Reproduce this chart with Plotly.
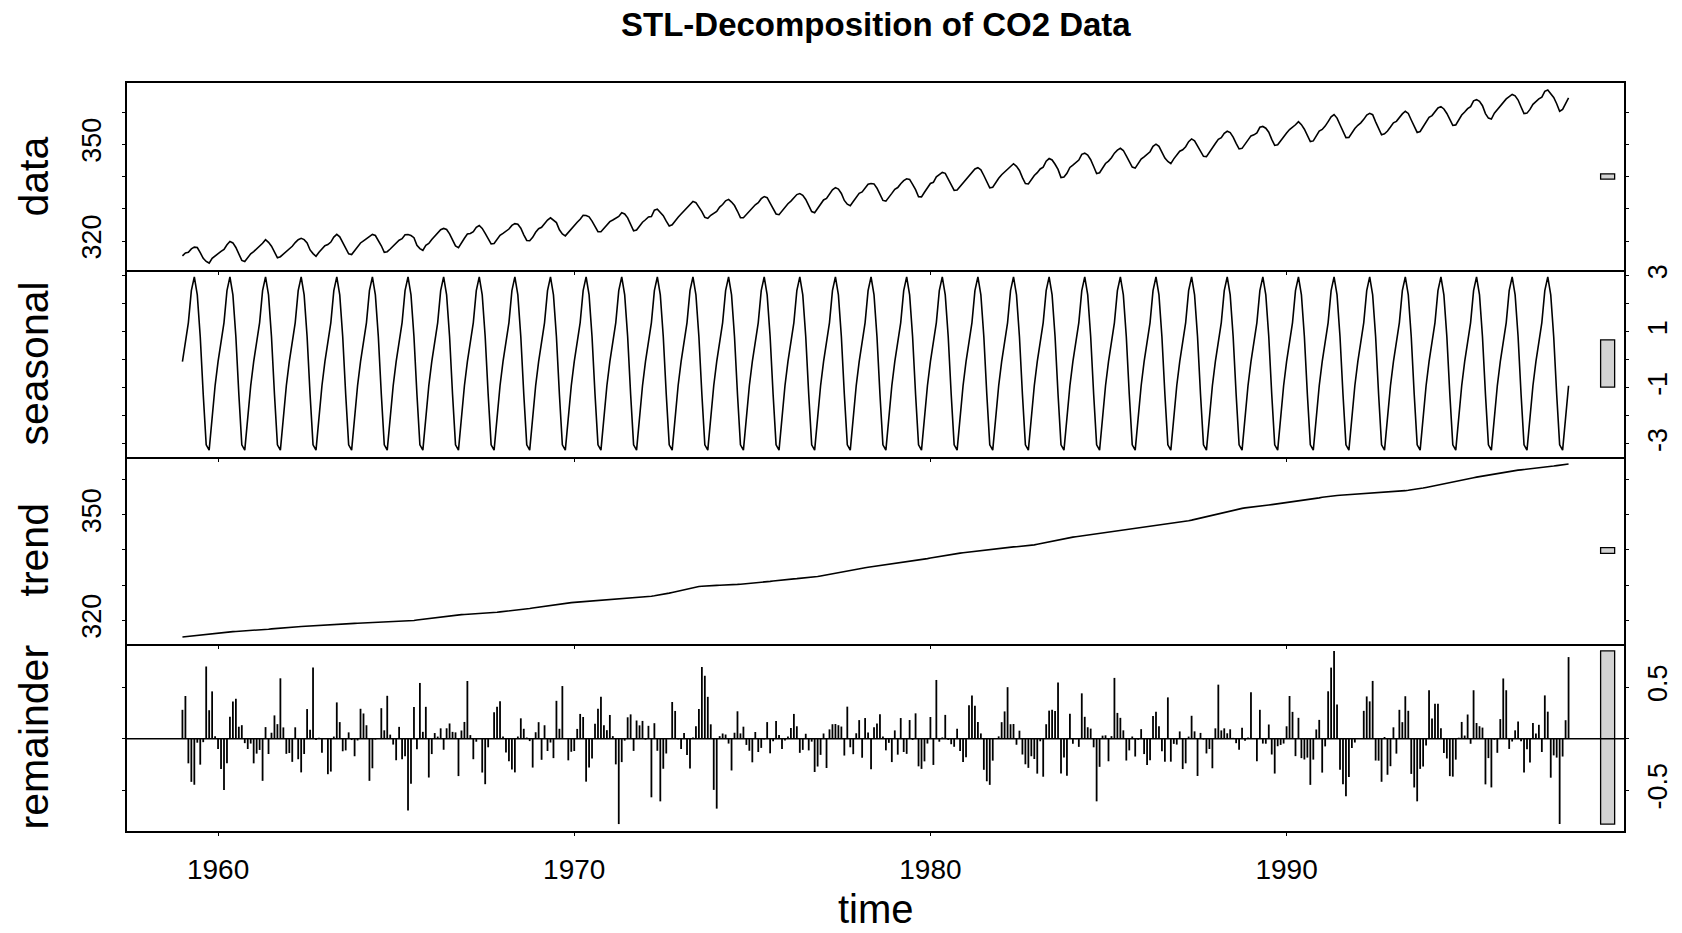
import plotly.graph_objects as go

# ---------------- data (Mauna Loa CO2, monthly, 1959-1997) ----------------
years = list(range(1959, 1998))
months = ["Jan", "Feb", "Mar", "Apr", "May", "Jun", "Jul", "Aug", "Sep", "Oct", "Nov", "Dec"]

co2_by_year = [
    [315.42, 316.31, 316.50, 317.56, 318.13, 318.00, 316.39, 314.65, 313.68, 313.18, 314.66, 315.43],
    [316.27, 316.81, 317.42, 318.87, 319.87, 319.43, 318.01, 315.74, 314.00, 313.68, 314.84, 316.03],
    [316.73, 317.54, 318.38, 319.31, 320.42, 319.61, 318.42, 316.63, 314.83, 315.16, 315.94, 316.85],
    [317.78, 318.40, 319.53, 320.42, 320.85, 320.45, 319.45, 317.25, 316.11, 315.27, 316.53, 317.53],
    [318.58, 318.92, 319.70, 321.22, 322.08, 321.31, 319.58, 317.61, 316.05, 315.83, 316.91, 318.20],
    [319.41, 320.07, 320.74, 321.40, 322.06, 321.73, 320.27, 318.54, 316.54, 316.71, 317.53, 318.55],
    [319.27, 320.28, 320.73, 321.97, 322.00, 321.71, 321.05, 318.71, 317.66, 317.14, 318.70, 319.25],
    [320.46, 321.43, 322.23, 323.54, 323.91, 323.59, 322.24, 320.20, 318.48, 317.94, 319.63, 320.87],
    [322.17, 322.34, 322.88, 324.25, 324.83, 323.93, 322.38, 320.76, 319.10, 319.24, 320.56, 321.80],
    [322.40, 322.99, 323.73, 324.86, 325.40, 325.20, 323.98, 321.95, 320.18, 320.09, 321.16, 322.74],
    [323.83, 324.26, 325.47, 326.50, 327.21, 326.54, 325.72, 323.50, 322.22, 321.62, 322.69, 323.95],
    [324.89, 325.82, 326.77, 327.97, 327.91, 327.50, 326.18, 324.53, 322.93, 322.90, 323.85, 324.96],
    [326.01, 326.51, 327.01, 327.62, 328.76, 328.40, 327.20, 325.27, 323.20, 323.40, 324.63, 325.85],
    [326.60, 327.47, 327.58, 329.56, 329.90, 328.92, 327.88, 326.16, 324.68, 325.04, 326.34, 327.39],
    [328.37, 329.40, 330.14, 331.33, 332.31, 331.90, 330.70, 329.15, 327.35, 327.02, 327.99, 328.48],
    [329.18, 330.55, 331.32, 332.48, 332.92, 332.08, 331.01, 329.23, 327.27, 327.21, 328.29, 329.41],
    [330.23, 331.25, 331.87, 333.14, 333.80, 333.43, 331.73, 329.90, 328.40, 328.17, 329.32, 330.59],
    [331.58, 332.39, 333.33, 334.41, 334.71, 334.17, 332.89, 330.77, 329.14, 328.78, 330.14, 331.52],
    [332.75, 333.24, 334.53, 335.90, 336.57, 336.10, 334.76, 332.59, 331.42, 330.98, 332.24, 333.68],
    [334.80, 335.22, 336.47, 337.59, 337.84, 337.72, 336.37, 334.51, 332.60, 332.38, 333.75, 334.78],
    [336.05, 336.59, 337.79, 338.71, 339.30, 339.12, 337.56, 335.92, 333.75, 333.70, 335.12, 336.56],
    [337.84, 338.19, 339.91, 340.60, 341.29, 341.00, 339.39, 337.43, 335.72, 335.84, 336.93, 338.04],
    [339.06, 340.30, 341.21, 342.33, 342.74, 342.08, 340.32, 338.26, 336.52, 336.68, 338.19, 339.44],
    [340.57, 341.44, 342.53, 343.39, 343.96, 343.18, 341.88, 339.65, 337.81, 337.69, 339.09, 340.32],
    [341.20, 342.35, 342.93, 344.77, 345.58, 345.14, 343.81, 342.21, 339.69, 339.82, 340.98, 342.82],
    [343.52, 344.33, 345.11, 346.88, 347.25, 346.62, 345.22, 343.11, 340.90, 341.18, 342.80, 344.04],
    [344.79, 345.82, 347.25, 348.17, 348.74, 348.07, 346.38, 344.51, 342.92, 342.62, 344.06, 345.38],
    [346.11, 346.78, 347.68, 349.37, 350.03, 349.37, 347.76, 345.73, 344.68, 343.99, 345.48, 346.72],
    [347.84, 348.29, 349.23, 350.80, 351.66, 351.07, 349.33, 347.92, 346.27, 346.18, 347.64, 348.78],
    [350.25, 351.54, 352.05, 353.41, 354.04, 353.62, 352.22, 350.27, 348.55, 348.72, 349.91, 351.18],
    [352.60, 352.92, 353.53, 355.26, 355.52, 354.97, 353.75, 351.52, 349.64, 349.83, 351.14, 352.37],
    [353.50, 354.55, 355.23, 356.04, 357.00, 356.07, 354.67, 352.76, 350.82, 351.04, 352.69, 354.07],
    [354.59, 355.63, 357.03, 358.48, 359.22, 358.12, 356.06, 353.92, 352.05, 352.11, 353.64, 354.89],
    [355.88, 356.63, 357.72, 359.07, 359.58, 359.17, 356.94, 354.92, 352.94, 353.23, 354.09, 355.33],
    [356.63, 357.10, 358.32, 359.41, 360.23, 359.55, 357.53, 355.48, 353.67, 353.95, 355.30, 356.78],
    [358.34, 358.89, 359.95, 361.25, 361.67, 360.94, 359.55, 357.49, 355.84, 356.00, 357.59, 359.05],
    [359.98, 361.03, 361.66, 363.48, 363.82, 363.30, 361.94, 359.50, 358.11, 357.80, 359.61, 360.74],
    [362.09, 363.29, 364.06, 364.76, 365.45, 365.01, 363.70, 361.54, 359.51, 359.65, 360.80, 362.38],
    [363.23, 364.06, 364.61, 366.40, 366.84, 365.68, 364.52, 362.57, 360.24, 360.83, 362.49, 364.34],
]

# periodic seasonal component (one value per calendar month)
seasonal_by_month = [-0.0610, 0.5946, 1.3290, 2.4690, 2.9570, 2.3184,
                     0.8217, -1.2267, -3.0318, -3.2171, -2.0300, -0.9232]

# trend component
trend_by_year = [
    [315.20, 315.30, 315.41, 315.51, 315.62, 315.72, 315.82, 315.91, 316.01, 316.12, 316.23, 316.33],
    [316.43, 316.51, 316.59, 316.64, 316.70, 316.75, 316.80, 316.85, 316.90, 316.94, 316.97, 317.00],
    [317.03, 317.09, 317.16, 317.25, 317.35, 317.44, 317.54, 317.63, 317.72, 317.79, 317.86, 317.92],
    [317.98, 318.03, 318.09, 318.15, 318.22, 318.28, 318.34, 318.39, 318.45, 318.50, 318.55, 318.59],
    [318.64, 318.67, 318.69, 318.73, 318.77, 318.83, 318.88, 318.95, 319.02, 319.06, 319.11, 319.14],
    [319.18, 319.23, 319.28, 319.34, 319.39, 319.42, 319.45, 319.47, 319.49, 319.51, 319.52, 319.53],
    [319.54, 319.57, 319.60, 319.67, 319.74, 319.83, 319.92, 320.04, 320.15, 320.29, 320.42, 320.55],
    [320.67, 320.78, 320.88, 320.97, 321.06, 321.17, 321.27, 321.36, 321.45, 321.52, 321.58, 321.63],
    [321.67, 321.71, 321.75, 321.81, 321.87, 321.94, 322.00, 322.07, 322.13, 322.20, 322.28, 322.36],
    [322.44, 322.53, 322.62, 322.69, 322.77, 322.86, 322.96, 323.08, 323.20, 323.33, 323.47, 323.60],
    [323.73, 323.87, 324.01, 324.15, 324.29, 324.41, 324.53, 324.63, 324.74, 324.84, 324.93, 325.00],
    [325.07, 325.13, 325.20, 325.29, 325.37, 325.46, 325.55, 325.61, 325.67, 325.71, 325.75, 325.80],
    [325.84, 325.89, 325.93, 325.98, 326.03, 326.10, 326.17, 326.26, 326.35, 326.44, 326.53, 326.60],
    [326.67, 326.75, 326.82, 326.94, 327.06, 327.21, 327.35, 327.53, 327.71, 327.90, 328.10, 328.32],
    [328.53, 328.75, 328.97, 329.15, 329.34, 329.46, 329.59, 329.68, 329.77, 329.83, 329.88, 329.90],
    [329.92, 329.93, 329.94, 329.97, 330.01, 330.07, 330.13, 330.19, 330.25, 330.31, 330.38, 330.45],
    [330.52, 330.59, 330.67, 330.76, 330.85, 330.95, 331.05, 331.15, 331.26, 331.35, 331.45, 331.53],
    [331.62, 331.69, 331.76, 331.82, 331.89, 331.96, 332.02, 332.11, 332.20, 332.32, 332.44, 332.60],
    [332.76, 332.93, 333.11, 333.29, 333.47, 333.65, 333.82, 333.98, 334.14, 334.28, 334.42, 334.55],
    [334.68, 334.81, 334.94, 335.06, 335.18, 335.29, 335.40, 335.50, 335.61, 335.71, 335.82, 335.93],
    [336.03, 336.15, 336.26, 336.37, 336.49, 336.62, 336.75, 336.90, 337.05, 337.21, 337.37, 337.53],
    [337.69, 337.85, 338.01, 338.16, 338.32, 338.45, 338.58, 338.71, 338.83, 338.96, 339.08, 339.19],
    [339.30, 339.38, 339.46, 339.54, 339.62, 339.71, 339.80, 339.90, 340.00, 340.11, 340.22, 340.34],
    [340.47, 340.58, 340.70, 340.78, 340.86, 340.92, 340.98, 341.03, 341.09, 341.19, 341.29, 341.44],
    [341.60, 341.78, 341.97, 342.16, 342.35, 342.54, 342.72, 342.89, 343.06, 343.22, 343.37, 343.50],
    [343.63, 343.74, 343.86, 343.97, 344.08, 344.19, 344.30, 344.42, 344.54, 344.67, 344.80, 344.93],
    [345.07, 345.20, 345.33, 345.45, 345.58, 345.67, 345.77, 345.85, 345.93, 346.01, 346.10, 346.21],
    [346.32, 346.44, 346.56, 346.68, 346.81, 346.93, 347.06, 347.18, 347.31, 347.43, 347.56, 347.70],
    [347.83, 347.99, 348.14, 348.31, 348.48, 348.68, 348.87, 349.09, 349.31, 349.54, 349.77, 349.99],
    [350.21, 350.42, 350.64, 350.84, 351.03, 351.21, 351.39, 351.54, 351.69, 351.83, 351.96, 352.09],
    [352.21, 352.32, 352.42, 352.51, 352.61, 352.70, 352.79, 352.90, 353.01, 353.12, 353.23, 353.34],
    [353.44, 353.54, 353.64, 353.74, 353.84, 353.94, 354.05, 354.17, 354.30, 354.46, 354.63, 354.81],
    [354.98, 355.11, 355.24, 355.32, 355.41, 355.47, 355.54, 355.59, 355.64, 355.70, 355.76, 355.85],
    [355.94, 356.03, 356.12, 356.19, 356.26, 356.29, 356.33, 356.36, 356.39, 356.43, 356.47, 356.52],
    [356.58, 356.65, 356.71, 356.78, 356.86, 356.96, 357.05, 357.18, 357.31, 357.46, 357.60, 357.77],
    [357.93, 358.10, 358.28, 358.44, 358.61, 358.76, 358.92, 359.08, 359.24, 359.42, 359.61, 359.81],
    [360.01, 360.20, 360.38, 360.54, 360.71, 360.86, 361.01, 361.17, 361.33, 361.49, 361.65, 361.80],
    [361.96, 362.11, 362.26, 362.39, 362.52, 362.61, 362.71, 362.79, 362.87, 362.97, 363.06, 363.15],
    [363.24, 363.33, 363.41, 363.51, 363.62, 363.74, 363.86, 363.98, 364.10, 364.22, 364.34, 364.47],
]

panel_names = ["data", "seasonal", "trend", "remainder"]
x_tick_values = [1960, 1970, 1980, 1990]
x_tick_labels = ["1960", "1970", "1980", "1990"]
y_tick_values = [[320, 330, 340, 350, 360], [-3, -2, -1, 0, 1, 2, 3],
                 [320, 330, 340, 350, 360], [-0.5, 0, 0.5]]
y_tick_labels = [["320", "", "", "350", ""], ["-3", "", "-1", "", "1", "", "3"],
                 ["320", "", "", "350", ""], ["-0.5", "", "0.5"]]
title_text = "STL-Decomposition of CO2 Data"
x_title = "time"

# ---------------- assemble series ----------------
time = [yr + m / 12 for yr in years for m in range(12)]
data = [v for row in co2_by_year for v in row]
seasonal = [seasonal_by_month[m] for yr in years for m in range(12)]
trend = [v for row in trend_by_year for v in row]
remainder = [d - s - t for d, s, t in zip(data, seasonal, trend)]
series = [data, seasonal, trend, remainder]

FONT = "Liberation Sans, Arial, Helvetica, sans-serif"


def padded(v):
    lo, hi = min(v), max(v)
    d = (hi - lo) * 0.04
    return [lo - d, hi + d]


xr = padded(time)
domains = [[0.75, 1.0], [0.5, 0.75], [0.25, 0.5], [0.0, 0.25]]

fig = go.Figure()
layout = {}
for i in range(4):
    sx = "" if i == 0 else str(i + 1)
    if i < 3:
        fig.add_trace(go.Scatter(x=time, y=series[i], mode="lines",
                                 line=dict(color="black", width=1.6),
                                 xaxis="x" + sx, yaxis="y" + sx,
                                 showlegend=False, hoverinfo="skip"))
    else:
        hx, hy = [], []
        for tt, rr in zip(time, remainder):
            hx += [tt, tt, None]
            hy += [0, rr, None]
        fig.add_trace(go.Scatter(x=hx, y=hy, mode="lines",
                                 line=dict(color="black", width=1.8),
                                 xaxis="x" + sx, yaxis="y" + sx,
                                 showlegend=False, hoverinfo="skip"))
    layout["xaxis" + sx] = dict(range=xr, domain=[0, 1], anchor="y" + sx,
                                tickvals=x_tick_values, ticktext=x_tick_labels,
                                ticks="outside", ticklen=3, tickwidth=1.3, tickcolor="black",
                                showline=True, linewidth=1.8, linecolor="black", mirror=(i == 0),
                                showgrid=False, zeroline=False, showticklabels=(i == 3),
                                tickfont=dict(family=FONT, size=28, color="black"),
                                ticklabelstandoff=9)
    left = (i % 2 == 0)
    layout["yaxis" + sx] = dict(range=padded(series[i]), domain=domains[i], anchor="x" + sx,
                                tickvals=y_tick_values[i], ticktext=y_tick_labels[i], tickangle=-90,
                                ticks="outside", ticklen=3, tickwidth=1.3, tickcolor="black",
                                showline=True, linewidth=1.8, linecolor="black", mirror="ticks",
                                showgrid=False, zeroline=False,
                                side=("left" if left else "right"),
                                tickfont=dict(family=FONT, size=27, color="black"),
                                ticklabelstandoff=(10 if left else 6))

# range bars (same data-height in every panel) and the zero line
mx = min(max(s) - min(s) for s in series)
dx = (xr[1] - xr[0]) / 64
shapes = []
for i in range(4):
    sx = "" if i == 0 else str(i + 1)
    mid = (max(series[i]) + min(series[i])) / 2
    shapes.append(dict(type="rect", xref="x" + sx, yref="y" + sx,
                       x0=xr[1] - dx, x1=xr[1] - 0.4 * dx,
                       y0=mid - mx / 2, y1=mid + mx / 2, fillcolor="#D3D3D3",
                       line=dict(color="black", width=1.3), layer="above"))
shapes.append(dict(type="line", xref="x4 domain", yref="y4", x0=0, x1=1, y0=0, y1=0,
                   line=dict(color="black", width=1.4)))

W, H = 1682, 933
L_, R_, T_, B_ = 127, 58, 83, 102


def px(xp):
    return (xp - L_) / (W - L_ - R_)


def py(yp):
    return (H - B_ - yp) / (H - T_ - B_)


ann = [dict(text="<b>" + title_text + "</b>", x=0.5, y=py(24), xref="paper", yref="paper",
            showarrow=False, xanchor="center", yanchor="middle",
            font=dict(family=FONT, size=33, color="black")),
       dict(text=x_title, x=0.5, y=py(909), xref="paper", yref="paper", showarrow=False,
            xanchor="center", yanchor="middle", font=dict(family=FONT, size=40, color="black"))]
for i in range(4):
    ann.append(dict(text=panel_names[i], x=px(33), y=(domains[i][0] + domains[i][1]) / 2,
                    xref="paper", yref="paper", showarrow=False, textangle=-90,
                    xanchor="center", yanchor="middle",
                    font=dict(family=FONT, size=41, color="black")))

fig.update_layout(width=W, height=H, margin=dict(l=L_, r=R_, t=T_, b=B_, autoexpand=False),
                  paper_bgcolor="white", plot_bgcolor="white",
                  shapes=shapes, annotations=ann, **layout)
fig.write_html("out.html")
